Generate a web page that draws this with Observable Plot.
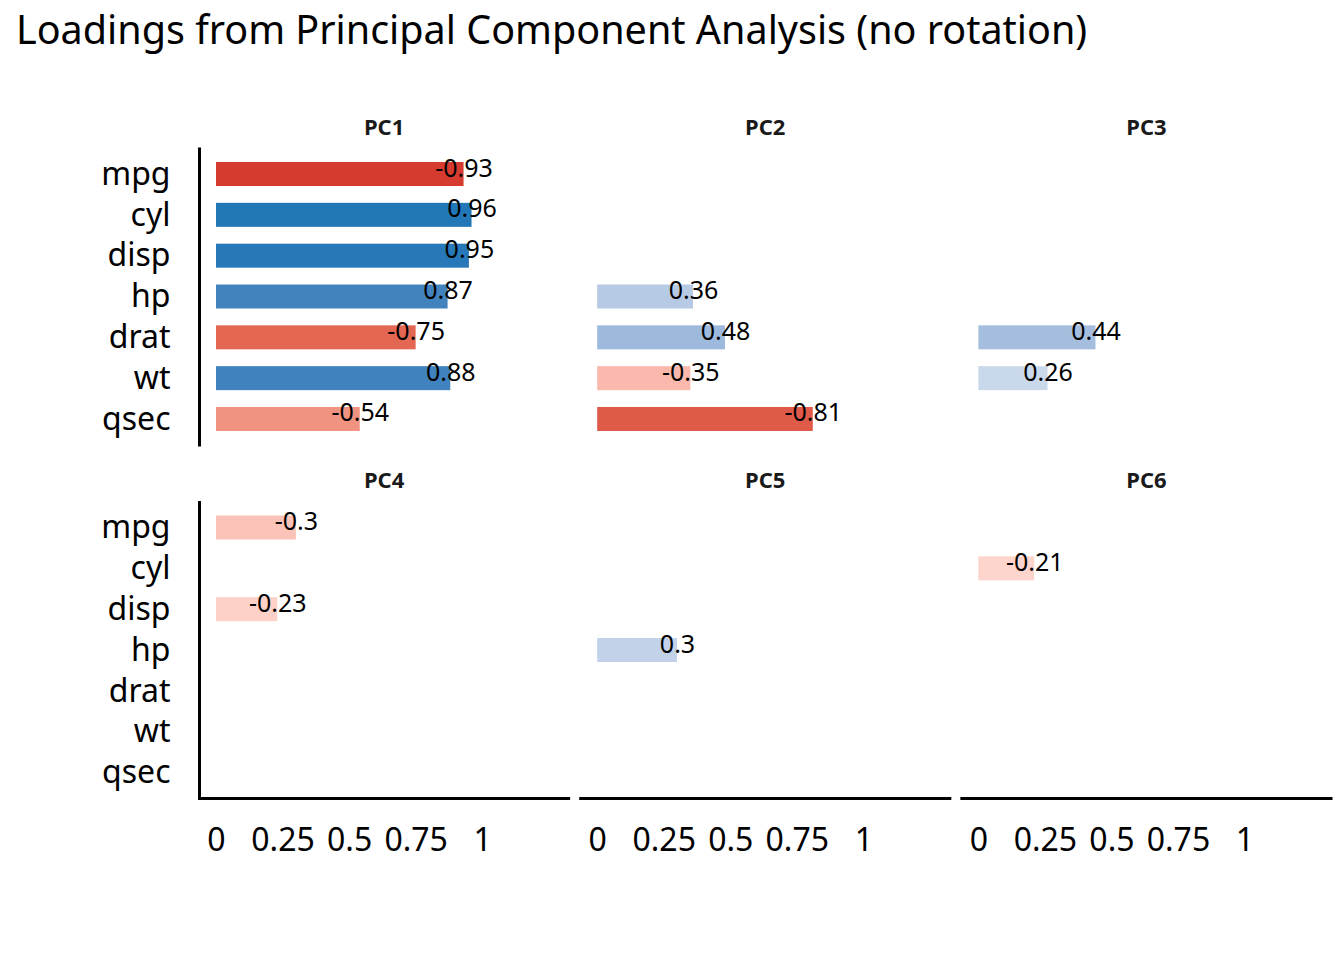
<!DOCTYPE html>
<html><head><meta charset="utf-8">
<script src="https://cdn.jsdelivr.net/npm/d3@7"></script>
<script src="https://cdn.jsdelivr.net/npm/@observablehq/plot@0.6"></script>
<style>
body{margin:0;background:#fff;font-family:"Noto Sans",sans-serif;color:#000}
#title{height:56px;line-height:58px;font-size:39.5px;padding-left:16px;white-space:nowrap;overflow:visible}
</style></head><body>
<div id="title">Loadings from Principal Component Analysis (no rotation)</div>
<div id="chart"></div>
<script>
// Variables (rows) and components (panels)
const variables = ["mpg", "cyl", "disp", "hp", "drat", "wt", "qsec"];
const components = ["PC1", "PC2", "PC3", "PC4", "PC5", "PC6"];
// Signed loadings shown (null = not shown, |loading| < 0.2)
const pc1 = [-0.93, 0.96, 0.95, 0.87, -0.75, 0.88, -0.54];
const pc2 = [null, null, null, 0.36, 0.48, -0.35, -0.81];
const pc3 = [null, null, null, null, 0.44, 0.26, null];
const pc4 = [-0.3, null, -0.23, null, null, null, null];
const pc5 = [null, null, null, 0.3, null, null, null];
const pc6 = [null, -0.21, null, null, null, null, null];
const xTicks = [0, 0.25, 0.5, 0.75, 1];

const series = [pc1, pc2, pc3, pc4, pc5, pc6];
const panels = components.map((name, i) => ({name, col: i % 3, row: Math.floor(i / 3)}));
const data = [];
series.forEach((vals, i) => vals.forEach((v, j) => {
  if (v !== null) data.push({pc: components[i], col: i % 3, row: Math.floor(i / 3), variable: variables[j], value: v, abs: Math.abs(v), label: String(v)});
}));

const chart = Plot.plot({
  width: 1344,
  height: 904,
  marginTop: 92.5,
  marginBottom: 162,
  marginLeft: 199,
  marginRight: 13.5,
  style: {fontFamily: "Noto Sans", background: "#fff", color: "#000"},
  fx: {axis: null, paddingInner: 12 / 381, paddingOuter: 0, round: false},
  fy: {axis: null, paddingInner: 57.5 / 353.5, paddingOuter: 0, round: false},
  x: {domain: [-0.0639, 1.323]},
  y: {domain: variables, paddingInner: 0.412, paddingOuter: 0.331, round: false},
  color: {type: "linear", domain: [-0.96, 0, 0.96], range: ["#d3322a", "#ffffff", "#2277b7"], interpolate: "lab", clamp: true},
  marks: [
    Plot.barX(data, {x1: 0, x2: "abs", y: "variable", fill: "value", fx: "col", fy: "row"}),
    Plot.text(data, {x: "abs", y: "variable", text: "label", dy: -6, fontSize: 25, fill: "#000", fx: "col", fy: "row"}),
    Plot.text(panels, {text: "name", fx: "col", fy: "row", frameAnchor: "top", lineAnchor: "middle", dy: -21.5, fontWeight: "bold", fontSize: 22, fill: "#1a1a1a"}),
    Plot.axisY({tickSize: 0, tickPadding: 29, fontSize: 32, facetAnchor: "left", label: null}),
    Plot.axisX({ticks: xTicks, tickFormat: d => String(d), tickSize: 0, tickPadding: 30, fontSize: 32, facetAnchor: "bottom", label: null}),
    Plot.frame({anchor: "left", facetAnchor: "left", stroke: "#000", strokeWidth: 3}),
    Plot.frame({anchor: "bottom", facetAnchor: "bottom", stroke: "#000", strokeWidth: 3})
  ]
});
document.getElementById("chart").appendChild(chart);
</script>
</body></html>
